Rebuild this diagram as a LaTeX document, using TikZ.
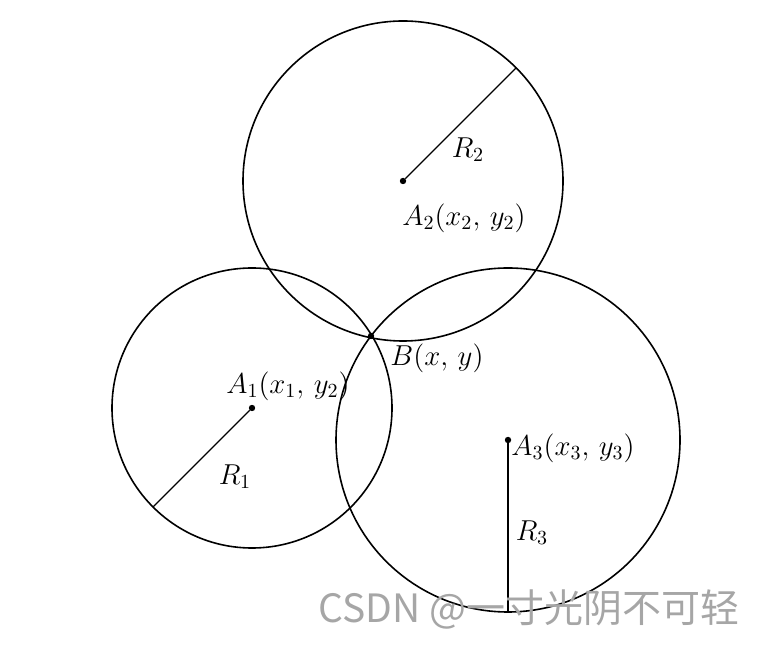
\documentclass[tikz,border=0pt]{standalone}
\usepackage{fontspec}
\newfontfamily\cjk{Noto Sans CJK SC}
\usetikzlibrary{positioning}
\tikzset{
    circle style/.style={line width=0.8pt},
    radius style/.style={line width=0.6pt},
    invisible point/.style={circle,inner sep=0pt,outer sep=0pt,minimum size=0pt},
    point/.style={invisible point,fill=black,minimum size=3.2pt},
    lbl/.style={font=\fontsize{14}{16}\selectfont,inner sep=0pt},
    watermark/.style={font=\cjk\fontsize{19.5}{20}\selectfont,black!35},
}

\begin{document}
\begin{tikzpicture}[x=0.5pt,y=0.5pt]
    \useasboundingbox (0,0) rectangle (780,652);
    % centres and the common point
    \node[point] (A1) at (252,244) {};
    \node[point] (A2) at (403,471) {};
    \node[point] (A3) at (508,212) {};
    \node[point] (B) at (371,316) {};

    \draw[circle style] (A1) circle[radius=140];
    \draw[circle style] (A2) circle[radius=160];
    \draw[circle style] (A3) circle[radius=172];

    % radii
    \path (A1) ++(225:140) coordinate (E1);
    \path (A2) ++(45:160) coordinate (E2);
    \path (A3) ++(270:172) coordinate (E3);
    \draw[radius style] (A1) -- (E1);
    \draw[radius style] (A2) -- (E2);
    \draw[radius style] (A3) -- (E3);

    \node[lbl] (R1) at (235,175) {$R_1$};
    \node[lbl] (R2) at (468,502) {$R_2$};
    \node[lbl] (R3) at (532,119) {$R_3$};

    \node[lbl] (A1lbl) at (288,266) {$A_1(x_1,\,y_2)$};
    \node[lbl] (A2lbl) at (464,434) {$A_2(x_2,\,y_2)$};
    \node[lbl,anchor=west] (A3lbl) at (511,204) {$A_3(x_3,\,y_3)$};
    \node[lbl] (Blbl) at (437,294) {$B(x,\,y)$};

    \node[watermark] (wm) at (529,43) {CSDN @一寸光阴不可轻};
\end{tikzpicture}
\end{document}
